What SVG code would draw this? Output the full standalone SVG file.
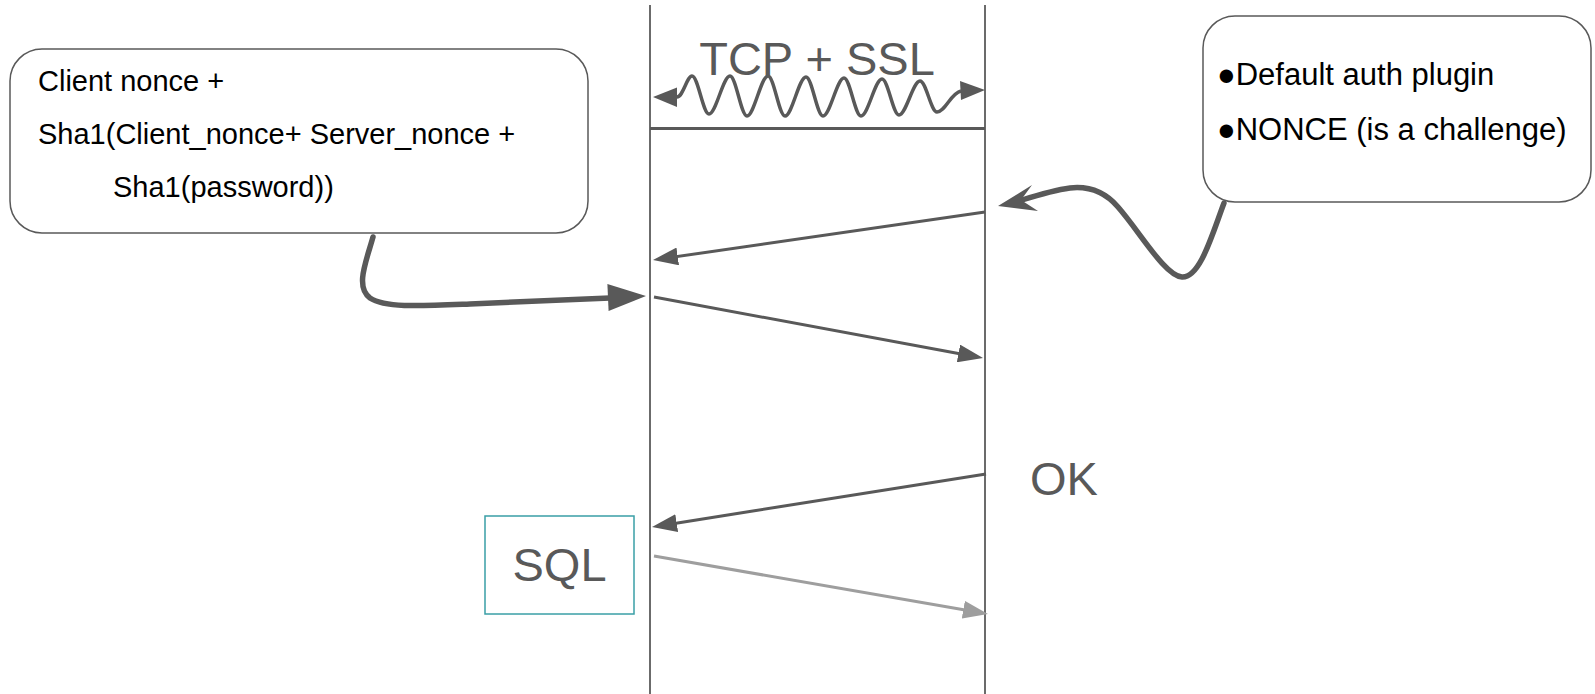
<svg xmlns="http://www.w3.org/2000/svg" width="1595" height="694" viewBox="0 0 1595 694">
  <style>
    .lifeline { stroke: #6b6b6b; stroke-width: 2; fill: none; }
    .msg { stroke: #595959; stroke-width: 3; fill: none; }
    .wave { stroke: #595959; stroke-width: 3.5; fill: none; }
    .msg-light { stroke: #9e9e9e; stroke-width: 3; fill: none; }
    .tail { stroke: #595959; stroke-width: 5.5; fill: none; stroke-linecap: round; }
    .head { fill: #595959; }
    .note { fill: #ffffff; stroke: #595959; stroke-width: 1.5; }
    .note-text { font-family: "Liberation Sans", Arial, sans-serif; font-size: 29px; fill: #000000; }
    .bullets { font-size: 31px; }
    .big { font-family: "Liberation Sans", Arial, sans-serif; font-size: 47px; fill: #595959; }
  </style>
  <defs>
    <marker id="arrow" viewBox="0 0 25 18" refX="15" refY="9" markerWidth="25" markerHeight="18" markerUnits="userSpaceOnUse" orient="auto">
      <path d="M0,0 L25,9 L0,18 z" fill="#595959"/>
    </marker>
    <marker id="arrow-light" viewBox="0 0 25 18" refX="15" refY="9" markerWidth="25" markerHeight="18" markerUnits="userSpaceOnUse" orient="auto">
      <path d="M0,0 L25,9 L0,18 z" fill="#9e9e9e"/>
    </marker>
  </defs>

  <rect width="1595" height="694" fill="#ffffff"/>

  <!-- client and server lifelines -->
  <g id="lifelines">
    <line class="lifeline" x1="650" y1="5" x2="650" y2="694"/>
    <line class="lifeline" x1="985" y1="5" x2="985" y2="694"/>
  </g>

  <!-- connection setup band -->
  <g id="tcp-ssl">
    <text class="big" x="817" y="75" text-anchor="middle">TCP + SSL</text>
    <path class="wave" d="M677,97 C683,97 687,76 692,76 C698,76 703,114 709,114 C716,114 723,76 730,76 C736,76 741,116 747,116 C754,116 761,76 768,76 C774,76 779,116 785,116 C792,116 799,77 806,77 C812,77 817,116 823,116 C830,116 837,78 844,78 C850,78 855,116 861,116 C868,116 875,79 882,79 C888,79 893,115 899,115 C906,115 913,81 920,81 C926,81 931,112 937,112 C945,112 951,93 961,91"/>
    <polygon class="head" points="653,97 677,87.5 677,107"/>
    <polygon class="head" points="985,90 960,81 961,100"/>
    <line x1="650" y1="128.5" x2="985" y2="128.5" stroke="#595959" stroke-width="3"/>
  </g>

  <!-- client callout -->
  <g id="client-note">
    <rect class="note" x="10" y="49" width="578" height="184" rx="32" ry="32"/>
    <text class="note-text" x="38" y="91">Client nonce +</text>
    <text class="note-text" x="38" y="144">Sha1(Client_nonce+ Server_nonce +</text>
    <text class="note-text" x="113" y="197">Sha1(password))</text>
  </g>

  <!-- server callout -->
  <g id="server-note">
    <rect class="note" x="1203" y="16" width="388" height="186" rx="32" ry="32"/>
    <text class="note-text bullets" x="1217" y="85">●Default auth plugin</text>
    <text class="note-text bullets" x="1217" y="140">●NONCE (is a challenge)</text>
  </g>

  <!-- query box -->
  <g id="sql-box">
    <rect x="485" y="516" width="149" height="98" fill="#ffffff" stroke="#3a9fa6" stroke-width="1.5"/>
    <text class="big" x="559.5" y="581" text-anchor="middle">SQL</text>
  </g>

  <g id="ok-label">
    <text class="big" x="1030" y="495">OK</text>
  </g>

  <!-- messages and callout pointers -->
  <g id="connectors">
    <line class="msg" x1="985" y1="212" x2="662.9" y2="258.6" marker-end="url(#arrow)"/>
    <line class="msg" x1="654" y1="297" x2="973.2" y2="356.2" marker-end="url(#arrow)"/>
    <line class="msg" x1="986" y1="474" x2="661.9" y2="525.4" marker-end="url(#arrow)"/>
    <line class="msg-light" x1="654" y1="556" x2="978.1" y2="612.3" marker-end="url(#arrow-light)"/>

    <path class="tail" d="M373,237 C366,262 355,287 370,298 C385,308 420,306 470,304 L610,298"/>
    <polygon class="head" points="646,296 607.4,284.1 608.6,311.1"/>

    <path class="tail" d="M1224,203 C1212,235 1200,278 1182,277 C1165,276 1140,232 1118,207 C1105,192 1088,186 1070,188 C1055,190 1038,195 1022,200"/>
    <polygon class="head" points="998,206 1032,185 1021,200 1038,211"/>
  </g>
</svg>
